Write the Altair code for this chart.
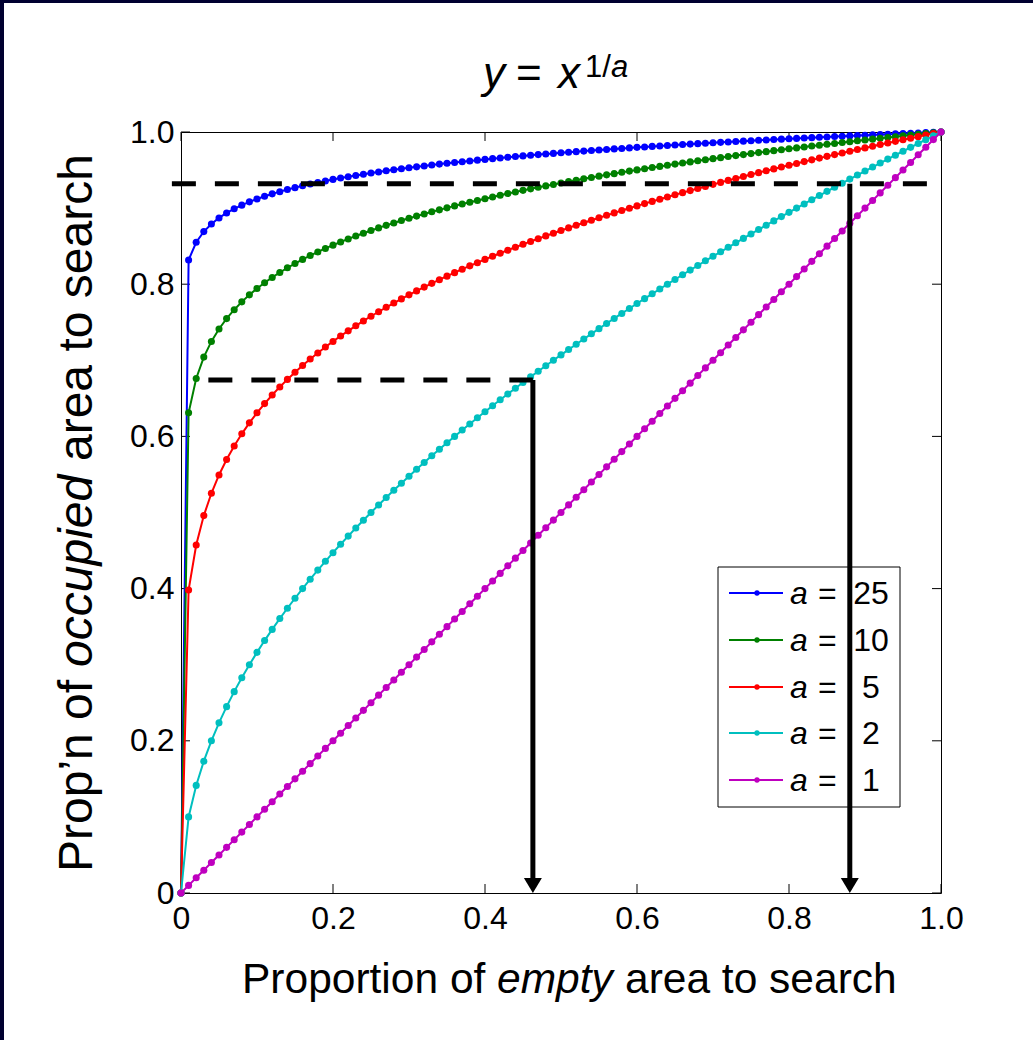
import altair as alt
import pandas as pd

# ---------------- data ----------------
x_vals = [0.00, 0.01, 0.02, 0.03, 0.04, 0.05, 0.06, 0.07, 0.08, 0.09,
          0.10, 0.11, 0.12, 0.13, 0.14, 0.15, 0.16, 0.17, 0.18, 0.19,
          0.20, 0.21, 0.22, 0.23, 0.24, 0.25, 0.26, 0.27, 0.28, 0.29,
          0.30, 0.31, 0.32, 0.33, 0.34, 0.35, 0.36, 0.37, 0.38, 0.39,
          0.40, 0.41, 0.42, 0.43, 0.44, 0.45, 0.46, 0.47, 0.48, 0.49,
          0.50, 0.51, 0.52, 0.53, 0.54, 0.55, 0.56, 0.57, 0.58, 0.59,
          0.60, 0.61, 0.62, 0.63, 0.64, 0.65, 0.66, 0.67, 0.68, 0.69,
          0.70, 0.71, 0.72, 0.73, 0.74, 0.75, 0.76, 0.77, 0.78, 0.79,
          0.80, 0.81, 0.82, 0.83, 0.84, 0.85, 0.86, 0.87, 0.88, 0.89,
          0.90, 0.91, 0.92, 0.93, 0.94, 0.95, 0.96, 0.97, 0.98, 0.99,
          1.00]

y_a25 = [0.0, 0.8318, 0.8551, 0.8691, 0.8792, 0.8871, 0.8936, 0.8991, 0.9039, 0.9082,
         0.9120, 0.9155, 0.9187, 0.9216, 0.9244, 0.9269, 0.9293, 0.9316, 0.9337, 0.9357,
         0.9377, 0.9395, 0.9412, 0.9429, 0.9445, 0.9461, 0.9475, 0.9490, 0.9504, 0.9517,
         0.9530, 0.9542, 0.9554, 0.9566, 0.9578, 0.9589, 0.9600, 0.9610, 0.9620, 0.9630,
         0.9640, 0.9650, 0.9659, 0.9668, 0.9677, 0.9686, 0.9694, 0.9703, 0.9711, 0.9719,
         0.9727, 0.9734, 0.9742, 0.9749, 0.9757, 0.9764, 0.9771, 0.9778, 0.9784, 0.9791,
         0.9798, 0.9804, 0.9811, 0.9817, 0.9823, 0.9829, 0.9835, 0.9841, 0.9847, 0.9853,
         0.9858, 0.9864, 0.9869, 0.9875, 0.9880, 0.9886, 0.9891, 0.9896, 0.9901, 0.9906,
         0.9911, 0.9916, 0.9921, 0.9926, 0.9931, 0.9935, 0.9940, 0.9944, 0.9949, 0.9954,
         0.9958, 0.9962, 0.9967, 0.9971, 0.9975, 0.9980, 0.9984, 0.9988, 0.9992, 0.9996,
         1.0]

y_a10 = [0.0, 0.6310, 0.6762, 0.7042, 0.7248, 0.7411, 0.7548, 0.7665, 0.7768, 0.7860,
         0.7943, 0.8019, 0.8089, 0.8154, 0.8215, 0.8272, 0.8326, 0.8376, 0.8424, 0.8470,
         0.8513, 0.8555, 0.8595, 0.8633, 0.8670, 0.8706, 0.8740, 0.8773, 0.8805, 0.8836,
         0.8866, 0.8895, 0.8923, 0.8951, 0.8977, 0.9003, 0.9029, 0.9054, 0.9078, 0.9101,
         0.9124, 0.9147, 0.9169, 0.9191, 0.9212, 0.9233, 0.9253, 0.9273, 0.9292, 0.9311,
         0.9330, 0.9349, 0.9367, 0.9385, 0.9402, 0.9420, 0.9437, 0.9453, 0.9470, 0.9486,
         0.9502, 0.9518, 0.9533, 0.9548, 0.9564, 0.9578, 0.9593, 0.9607, 0.9622, 0.9636,
         0.9650, 0.9663, 0.9677, 0.9690, 0.9703, 0.9716, 0.9729, 0.9742, 0.9755, 0.9767,
         0.9779, 0.9791, 0.9804, 0.9815, 0.9827, 0.9839, 0.9850, 0.9862, 0.9873, 0.9884,
         0.9895, 0.9906, 0.9917, 0.9928, 0.9938, 0.9949, 0.9959, 0.9970, 0.9980, 0.9990,
         1.0]

y_a5 = [0.0, 0.3981, 0.4573, 0.4959, 0.5253, 0.5493, 0.5697, 0.5875, 0.6034, 0.6178,
        0.6310, 0.6431, 0.6544, 0.6650, 0.6749, 0.6843, 0.6931, 0.7016, 0.7097, 0.7174,
        0.7248, 0.7319, 0.7387, 0.7453, 0.7517, 0.7579, 0.7638, 0.7696, 0.7752, 0.7807,
        0.7860, 0.7912, 0.7962, 0.8011, 0.8059, 0.8106, 0.8152, 0.8197, 0.8241, 0.8283,
        0.8326, 0.8367, 0.8407, 0.8447, 0.8486, 0.8524, 0.8562, 0.8598, 0.8635, 0.8670,
        0.8706, 0.8740, 0.8774, 0.8808, 0.8841, 0.8873, 0.8905, 0.8937, 0.8968, 0.8999,
        0.9029, 0.9059, 0.9088, 0.9117, 0.9146, 0.9175, 0.9203, 0.9230, 0.9258, 0.9285,
        0.9312, 0.9338, 0.9364, 0.9390, 0.9416, 0.9441, 0.9466, 0.9491, 0.9515, 0.9540,
        0.9564, 0.9587, 0.9611, 0.9634, 0.9657, 0.9680, 0.9703, 0.9725, 0.9748, 0.9770,
        0.9791, 0.9813, 0.9835, 0.9856, 0.9877, 0.9898, 0.9919, 0.9939, 0.9960, 0.9980,
        1.0]

y_a2 = [0.0, 0.1000, 0.1414, 0.1732, 0.2000, 0.2236, 0.2449, 0.2646, 0.2828, 0.3000,
        0.3162, 0.3317, 0.3464, 0.3606, 0.3742, 0.3873, 0.4000, 0.4123, 0.4243, 0.4359,
        0.4472, 0.4583, 0.4690, 0.4796, 0.4899, 0.5000, 0.5099, 0.5196, 0.5292, 0.5385,
        0.5477, 0.5568, 0.5657, 0.5745, 0.5831, 0.5916, 0.6000, 0.6083, 0.6164, 0.6245,
        0.6325, 0.6403, 0.6481, 0.6557, 0.6633, 0.6708, 0.6782, 0.6856, 0.6928, 0.7000,
        0.7071, 0.7141, 0.7211, 0.7280, 0.7348, 0.7416, 0.7483, 0.7550, 0.7616, 0.7681,
        0.7746, 0.7810, 0.7874, 0.7937, 0.8000, 0.8062, 0.8124, 0.8185, 0.8246, 0.8307,
        0.8367, 0.8426, 0.8485, 0.8544, 0.8602, 0.8660, 0.8718, 0.8775, 0.8832, 0.8888,
        0.8944, 0.9000, 0.9055, 0.9110, 0.9165, 0.9220, 0.9274, 0.9327, 0.9381, 0.9434,
        0.9487, 0.9539, 0.9592, 0.9644, 0.9695, 0.9747, 0.9798, 0.9849, 0.9899, 0.9950,
        1.0]

y_a1 = [0.00, 0.01, 0.02, 0.03, 0.04, 0.05, 0.06, 0.07, 0.08, 0.09,
        0.10, 0.11, 0.12, 0.13, 0.14, 0.15, 0.16, 0.17, 0.18, 0.19,
        0.20, 0.21, 0.22, 0.23, 0.24, 0.25, 0.26, 0.27, 0.28, 0.29,
        0.30, 0.31, 0.32, 0.33, 0.34, 0.35, 0.36, 0.37, 0.38, 0.39,
        0.40, 0.41, 0.42, 0.43, 0.44, 0.45, 0.46, 0.47, 0.48, 0.49,
        0.50, 0.51, 0.52, 0.53, 0.54, 0.55, 0.56, 0.57, 0.58, 0.59,
        0.60, 0.61, 0.62, 0.63, 0.64, 0.65, 0.66, 0.67, 0.68, 0.69,
        0.70, 0.71, 0.72, 0.73, 0.74, 0.75, 0.76, 0.77, 0.78, 0.79,
        0.80, 0.81, 0.82, 0.83, 0.84, 0.85, 0.86, 0.87, 0.88, 0.89,
        0.90, 0.91, 0.92, 0.93, 0.94, 0.95, 0.96, 0.97, 0.98, 0.99,
        1.00]

a_labels = ["25", "10", "5", "2", "1"]
series_colors = ["#0000ff", "#008000", "#ff0000", "#00bfbf", "#bf00bf"]
series_values = [y_a25, y_a10, y_a5, y_a2, y_a1]

tick_values = [0, 0.2, 0.4, 0.6, 0.8, 1.0]

# dashed guide lines (level, start x, end x) and arrows (x, top y)
dash_levels = [0.674, 0.932]
dash_x_start = [0.036, -0.012]
dash_x_end = [0.463, 1.0]
arrow_x = [0.463, 0.880]
arrow_top = [0.674, 0.932]

# ---------------- layout constants (pixels) ----------------
W, H = 760, 761
FONT = "Liberation Sans"

rows = []
for lab, vals in zip(a_labels, series_values):
    for xv, yv in zip(x_vals, vals):
        rows.append({"x": xv, "y": yv, "a": lab})
df = pd.DataFrame(rows)

xs = alt.Scale(domain=[0, 1], nice=False, zero=False)
ys = alt.Scale(domain=[0, 1], nice=False, zero=False)
label_expr = "datum.value == 0 ? '0' : format(datum.value, '.1f')"
xaxis = alt.Axis(values=tick_values, labelExpr=label_expr, labelFont=FONT,
                 labelFontSize=32, labelColor="black", labelPadding=10,
                 ticks=False, tickSize=0, domain=False, grid=False, title=None,
                 labelFlush=False, labelOverlap=False)
yaxis = alt.Axis(values=tick_values, labelExpr=label_expr, labelFont=FONT,
                 labelFontSize=32, labelColor="black", labelPadding=7,
                 ticks=False, tickSize=0, domain=False, grid=False, title=None,
                 labelFlush=False, labelOverlap=False)

layers = []

# inward ticks on all four sides
tdf = pd.DataFrame({"v": tick_values})
TL = 9
layers.append(alt.Chart(tdf).mark_rule(color="black", strokeWidth=1).encode(
    x=alt.X("v:Q", scale=xs, axis=xaxis), y=alt.value(H), y2=alt.value(H - TL)))
layers.append(alt.Chart(tdf).mark_rule(color="black", strokeWidth=1).encode(
    x=alt.X("v:Q", scale=xs, axis=xaxis), y=alt.value(0), y2=alt.value(TL)))
layers.append(alt.Chart(tdf).mark_rule(color="black", strokeWidth=1).encode(
    y=alt.Y("v:Q", scale=ys, axis=yaxis), x=alt.value(0), x2=alt.value(TL)))
layers.append(alt.Chart(tdf).mark_rule(color="black", strokeWidth=1).encode(
    y=alt.Y("v:Q", scale=ys, axis=yaxis), x=alt.value(W), x2=alt.value(W - TL)))

# curves
for lab, col in zip(a_labels, series_colors):
    sub = df[df["a"] == lab]
    base = alt.Chart(sub).encode(
        x=alt.X("x:Q", scale=xs, axis=xaxis),
        y=alt.Y("y:Q", scale=ys, axis=yaxis))
    layers.append(base.mark_line(color=col, strokeWidth=2))
    layers.append(base.mark_point(color=col, filled=True, size=50, opacity=1))

one = pd.DataFrame({"k": [0]})


def txt(s, x, y, size, italic=False, align="left", angle=0):
    kw = dict(text=s, fontSize=size, font=FONT, align=align,
              baseline="alphabetic", color="black")
    if italic:
        kw["fontStyle"] = "italic"
    if angle:
        kw["angle"] = angle
    return alt.Chart(one).mark_text(**kw).encode(x=alt.value(x), y=alt.value(y))


# legend box
layers.append(alt.Chart(one).mark_rect(fill="white", stroke="black", strokeWidth=1).encode(
    x=alt.value(537), x2=alt.value(719), y=alt.value(435), y2=alt.value(675)))
row_y = [461, 508, 555, 601, 648]
for lab, col, yc in zip(a_labels, series_colors, row_y):
    layers.append(alt.Chart(one).mark_rule(color=col, strokeWidth=2).encode(
        x=alt.value(548), x2=alt.value(602), y=alt.value(yc)))
    layers.append(alt.Chart(one).mark_point(color=col, filled=True, size=28, opacity=1).encode(
        x=alt.value(576), y=alt.value(yc)))
    layers.append(txt("a", 609, yc + 11, 32, italic=True))
    layers.append(txt("=", 637, yc + 11, 32))
    layers.append(txt(lab, 690, yc + 11, 32, align="center"))

# dashed guides
ddf = pd.DataFrame({"lvl": dash_levels, "x0": dash_x_start, "x1": dash_x_end})
layers.append(alt.Chart(ddf).mark_rule(color="black", strokeWidth=5,
                                       strokeDash=[24, 19], strokeCap="butt").encode(
    x=alt.X("x0:Q", scale=xs, axis=xaxis), x2="x1:Q",
    y=alt.Y("lvl:Q", scale=ys, axis=yaxis)))

# arrows
adf = pd.DataFrame({"ax": arrow_x, "top": arrow_top, "bot": [0, 0]})
layers.append(alt.Chart(adf).mark_rule(color="black", strokeWidth=5, strokeCap="butt").encode(
    x=alt.X("ax:Q", scale=xs, axis=xaxis),
    y=alt.Y("top:Q", scale=ys, axis=yaxis), y2=alt.value(H - 10)))
layers.append(alt.Chart(adf).mark_point(shape="M-1,-1.667L1,-1.667L0,0Z", filled=True,
                                        size=324, color="black", opacity=1).encode(
    x=alt.X("ax:Q", scale=xs, axis=xaxis),
    y=alt.Y("bot:Q", scale=ys, axis=yaxis)))

# title  y = x^(1/a)
layers.append(txt("y", 302, -44, 44, italic=True))
layers.append(txt("=", 335, -44, 44))
layers.append(txt("x", 377, -44, 44, italic=True))
layers.append(txt("1/", 404, -55, 31))
layers.append(txt("a", 430, -55, 31, italic=True))

# x-axis title
layers.append(txt("Proportion of", 61, 861, 42.5))
layers.append(txt("empty", 316, 861, 42.5, italic=True))
layers.append(txt("area to search", 444, 861, 42.5))

# y-axis title (rotated)
layers.append(txt("Prop\u2019n of", -89, 740, 48, angle=270))
layers.append(txt("occupied", -89, 535, 48, italic=True, angle=270))
layers.append(txt("area to search", -89, 329, 48, angle=270))

# dark frame on the left and top edges of the picture
layers.append(alt.Chart(one).mark_rect(color="#000030").encode(
    x=alt.value(-181), x2=alt.value(-177), y=alt.value(-132), y2=alt.value(908)))
layers.append(alt.Chart(one).mark_rect(color="#000030").encode(
    x=alt.value(-181), x2=alt.value(852), y=alt.value(-132), y2=alt.value(-129)))

chart = alt.layer(*layers).properties(
    width=W, height=H,
    autosize=alt.AutoSizeParams(type="none"),
    padding={"left": 181, "top": 132, "right": 92, "bottom": 147},
).configure(background="white").configure_view(stroke="black", strokeWidth=1)

chart.save("out.html", embed_options={"renderer": "svg", "actions": False})
